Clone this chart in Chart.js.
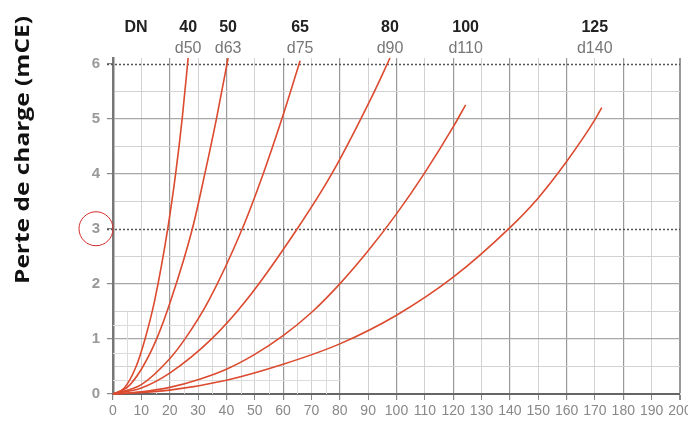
<!DOCTYPE html>
<html>
<head>
<meta charset="utf-8">
<script src="https://cdn.jsdelivr.net/npm/chart.js@4"></script>
<style>
  body { margin: 0; background: #fff; }
  #wrap { width: 688px; height: 422px; position: relative; }
</style>
</head>
<body>
<div id="wrap"><canvas id="chart"></canvas></div>
<script>
// labels above the curves
const dnLabels = ["40", "50", "65", "80", "100", "125"];
const dLabels = ["d50", "d63", "d75", "d90", "d110", "d140"];

// [debit, perte de charge]
const dn40 = [[0, 0], [4, 0.11], [8, 0.48], [11.3, 1], [14.7, 1.7], [19.3, 3], [22.1, 4], [24.4, 5], [26.5, 6.1]];
const dn50 = [[0, 0], [5, 0.12], [10, 0.45], [15.4, 1], [20.4, 1.7], [28, 3], [32.4, 4], [36.5, 5], [40.6, 6.1]];
const dn65 = [[0, 0], [10, 0.17], [20, 0.64], [25.4, 1], [33.8, 1.7], [45.6, 3], [53, 4], [59.6, 5], [66, 6.05]];
const dn80 = [[0, 0], [10, 0.11], [20, 0.38], [34.8, 1], [47, 1.7], [65, 3], [77.2, 4], [91.8, 5.45], [97.7, 6.1]];
const dn100 = [[0, 0], [10, 0.04], [20, 0.12], [30, 0.26], [40, 0.45], [50, 0.72], [60, 1.06], [70, 1.48], [80, 2], [90, 2.6], [100, 3.27], [110, 4.02], [120, 4.85], [124.4, 5.25]];
const dn125 = [[0, 0], [20, 0.07], [40, 0.25], [60, 0.54], [80, 0.91], [100, 1.43], [120, 2.12], [140, 3.02], [150, 3.56], [160, 4.22], [170, 4.98], [172.4, 5.2]];
const curves = [dn40, dn50, dn65, dn80, dn100, dn125];

const xTicks = { min: 0, max: 200, step: 10 };
const yTicks = { min: 0, max: 6, step: 0.5 };

const RED = "#dc4a2f";
const narrow = "'Liberation Sans Narrow', 'Liberation Sans', sans-serif";
const isInt = v => Math.abs(v - Math.round(v)) < 1e-6;

const datasets = curves.map((pts, i) => ({
  label: "DN" + dnLabels[i],
  data: pts.map(p => ({ x: p[0], y: p[1] })),
  borderColor: RED,
  borderWidth: 1.6,
  pointRadius: 0,
  cubicInterpolationMode: "monotone",
  clip: false
}));

const extras = {
  id: "extras",
  beforeDatasetsDraw(chart) {
    const { ctx, scales: { x, y } } = chart;
    ctx.save();
    // fine grid in the low corner
    ctx.strokeStyle = "#dcdcdc";
    ctx.lineWidth = 1;
    ctx.beginPath();
    for (let v = 5; v < 80; v += 10) {
      const px = Math.round(x.getPixelForValue(v)) + 0.5;
      ctx.moveTo(px, y.getPixelForValue(0));
      ctx.lineTo(px, y.getPixelForValue(1.5));
    }
    for (const v of [0.25, 0.75, 1.25]) {
      const py = Math.round(y.getPixelForValue(v)) + 0.5;
      ctx.moveTo(x.getPixelForValue(0), py);
      ctx.lineTo(x.getPixelForValue(80), py);
    }
    ctx.stroke();
    // dotted lines at 3 and 6
    ctx.strokeStyle = "#555";
    ctx.lineWidth = 1.6;
    ctx.setLineDash([2, 2]);
    ctx.beginPath();
    for (const v of [3, 6]) {
      const py = Math.round(y.getPixelForValue(v)) + 0.5;
      ctx.moveTo(x.left - 6, py);
      ctx.lineTo(x.right, py);
    }
    ctx.stroke();
    ctx.restore();
  },
  afterDraw(chart) {
    const { ctx, scales: { x, y }, chartArea } = chart;
    ctx.save();
    ctx.textAlign = "center";
    ctx.textBaseline = "alphabetic";
    ctx.fillStyle = "#222";
    ctx.font = "bold 16px 'Liberation Sans', sans-serif";
    ctx.fillText("DN", chartArea.left + 23, 32);
    curves.forEach((pts, i) => {
      const px = x.getPixelForValue(pts[pts.length - 1][0]) - (i === 5 ? 7 : 0);
      ctx.fillStyle = "#222";
      ctx.font = "bold 16px 'Liberation Sans', sans-serif";
      ctx.fillText(dnLabels[i], px, 32);
      ctx.fillStyle = "#777";
      ctx.font = "16px 'Liberation Sans', sans-serif";
      ctx.fillText(dLabels[i], px, 53);
    });
    // axis title, stretched to the length it has in the original
    const title = "Perte de charge (mCE)";
    ctx.translate(23, 150);
    ctx.rotate(-Math.PI / 2);
    ctx.fillStyle = "#111";
    ctx.font = "bold 20px 'Open Sans', sans-serif";
    ctx.textBaseline = "middle";
    const w = ctx.measureText(title).width;
    ctx.scale(268 / w, 1);
    ctx.fillText(title, 0, 0);
    ctx.setTransform(1, 0, 0, 1, 0, 0);
    // red circle around the 3
    ctx.strokeStyle = "#d42a2a";
    ctx.lineWidth = 1;
    ctx.beginPath();
    ctx.arc(chartArea.left - 17, y.getPixelForValue(3), 17, 0, Math.PI * 2);
    ctx.stroke();
    ctx.restore();
  }
};

new Chart(document.getElementById("chart"), {
  type: "line",
  data: { datasets },
  options: {
    responsive: true,
    maintainAspectRatio: false,
    animation: false,
    layout: { padding: { top: 58, right: 8, left: 0, bottom: 0 } },
    plugins: { legend: { display: false }, tooltip: { enabled: false } },
    scales: {
      x: {
        type: "linear",
        min: xTicks.min,
        max: xTicks.max,
        ticks: {
          stepSize: xTicks.step,
          color: "#888",
          padding: 3,
          maxRotation: 0,
          autoSkip: false,
          font: { family: narrow, size: 14 }
        },
        grid: {
          color: c => (c.tick.value % 20 === 0 ? "#999" : "#d2d2d2"),
          lineWidth: c => (c.tick.value === 200 ? 2 : c.tick.value % 20 === 0 ? 1.2 : 1),
          tickColor: "#888",
          tickLength: 6
        },
        border: { color: "#666", width: 2 },
        afterFit(s) {
          s.height = 28;
          s.paddingLeft = 0;
          s.paddingRight = 0;
        }
      },
      y: {
        type: "linear",
        min: yTicks.min,
        max: 6.1,
        afterBuildTicks(s) {
          s.ticks = s.ticks.filter(t => t.value <= yTicks.max + 1e-6);
        },
        ticks: {
          stepSize: yTicks.step,
          includeBounds: false,
          color: "#999",
          padding: 7,
          autoSkip: false,
          font: { family: narrow, size: 15, weight: "bold" },
          callback: v => (isInt(v) ? Math.round(v) : "")
        },
        grid: {
          color: c => {
            const v = c.tick.value;
            if (Math.abs(v - 3) < 1e-6 || Math.abs(v - 6) < 1e-6) return "rgba(0,0,0,0)";
            return isInt(v) ? "#a8a8a8" : "#d2d2d2";
          },
          lineWidth: c => (isInt(c.tick.value) ? 1.2 : 1),
          tickColor: c => (isInt(c.tick.value) ? "#888" : "rgba(0,0,0,0)"),
          tickLength: 6
        },
        border: { color: "#777", width: 2.5 },
        afterFit(s) {
          s.width = 113;
          s.paddingTop = 0;
          s.paddingBottom = 0;
        }
      }
    }
  },
  plugins: [extras]
});
</script>
</body>
</html>
